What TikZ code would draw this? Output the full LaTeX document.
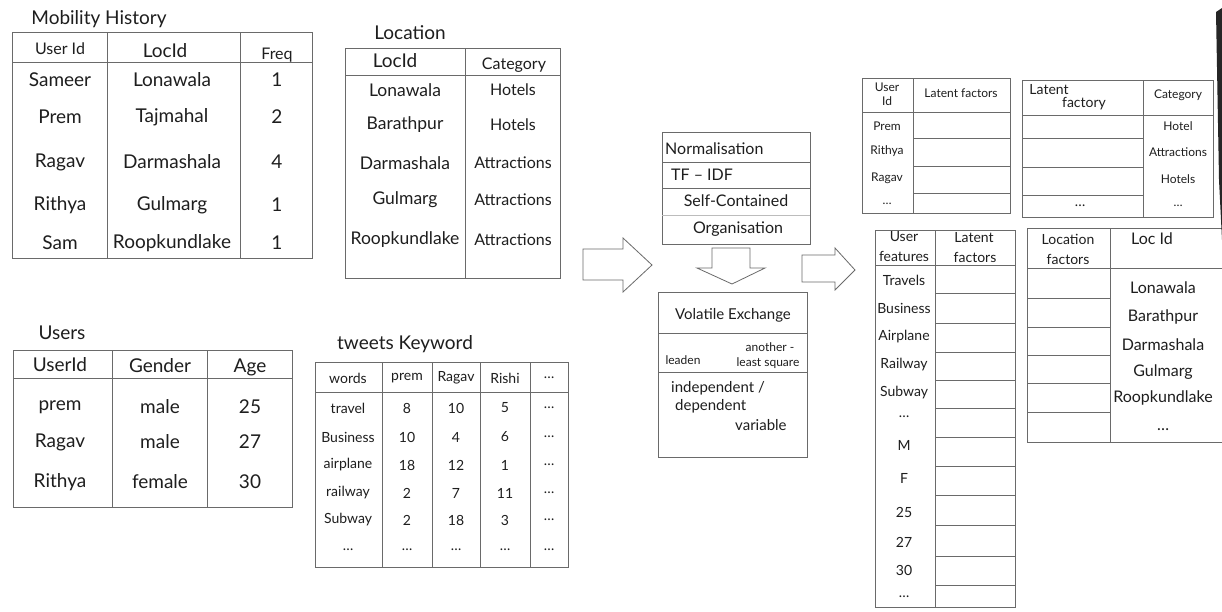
\documentclass[tikz,border=0pt]{standalone}
\usepackage{fontspec}
\setmainfont{Lato}
\definecolor{linec}{HTML}{6A6A6A}
\definecolor{inkc}{HTML}{1E1E1E}
\begin{document}
\begin{tikzpicture}[x=1pt,y=-1pt,
  tl/.style={draw=linec,line width=0.7pt},
  faint/.style={draw=linec!45,line width=0.6pt},
  txt/.style={inner sep=1pt,text=inkc},
  big/.style={txt,font=\fontsize{19}{21}\selectfont},
  lbig/.style={txt,font=\fontsize{17.5}{20}\selectfont},
  mid/.style={txt,font=\fontsize{16}{18}\selectfont},
  vmid/.style={txt,font=\fontsize{15}{17}\selectfont},
  sml/.style={txt,font=\fontsize{14}{16}\selectfont},
  tny/.style={txt,font=\fontsize{12}{14}\selectfont},
  blockarrow/.style={draw=linec,line width=0.8pt,fill=white,line join=miter}]
\fill[white] (0,0) rectangle (1222,611);
\useasboundingbox (0,0) rectangle (1222,611);

% ---------------- Mobility history ----------------
\node[big] (mobT) at (99,19) {Mobility History};
\draw[tl] (12,32) rectangle (312,258);
\draw[tl] (12,62) -- (312,62);
\draw[tl] (107,32) -- (107,258) (240,32) -- (240,258);
\node[mid] (mobH1) at (60,49) {User Id};
\node[big] (mobH2) at (165,51) {LocId};
\node[mid] (mobH3) at (277,55) {Freq};
\foreach \n/\a/\b/\c/\yy in {1/Sameer/Lonawala/1/80,2/Prem/Tajmahal/2/117,3/Ragav/Darmashala/4/162,4/Rithya/Gulmarg/1/205,5/Sam/Roopkundlake/1/243}{
  \node[big] (mobU\n) at (60,\yy) {\a};
  \node[big] (mobL\n) at (172,\yy) {\b};
  \node[big] (mobF\n) at (277,\yy) {\c};
}

% ---------------- Location ----------------
\node[big] (locT) at (410,33) {Location};
\draw[tl] (345,48) rectangle (560,278);
\draw[tl] (345,75) -- (560,75);
\draw[tl] (465,48) -- (465,278);
\node[big] (locH1) at (395,61) {LocId};
\node[mid] (locH2) at (514,65) {Category};
\foreach \n/\a/\b/\yy in {1/Lonawala/Hotels/90,2/Barathpur/Hotels/125,3/Darmashala/Attractions/163,4/Gulmarg/Attractions/200,5/Roopkundlake/Attractions/240}{
  \node[lbig] (locL\n) at (405,\yy) {\a};
  \node[mid] (locC\n) at (513,\yy) {\b};
}

% ---------------- Users ----------------
\node[big] (usrT) at (62,333) {Users};
\draw[tl] (13,350) rectangle (292,507);
\draw[tl] (13,378) -- (292,378);
\draw[tl] (112,350) -- (112,507) (207,350) -- (207,507);
\node[big] (usrH1) at (60,365) {UserId};
\node[big] (usrH2) at (160,366) {Gender};
\node[big] (usrH3) at (250,367) {Age};
\foreach \n/\a/\b/\c/\yy in {1/prem/male/25/407,2/Ragav/male/27/442,3/Rithya/female/30/482}{
  \node[big] (usrU\n) at (60,\yy) {\a};
  \node[big] (usrG\n) at (160,\yy) {\b};
  \node[big] (usrA\n) at (250,\yy) {\c};
}

% ---------------- tweets Keyword ----------------
\node[big] (twT) at (405,344) {tweets Keyword};
\draw[tl] (315,362) rectangle (568,567);
\draw[tl] (315,392) -- (568,392);
\draw[tl] (382,362) -- (382,567) (432,362) -- (432,567) (480,362) -- (480,567) (530,362) -- (530,567);
\node[sml] (twH1) at (348,378) {words};
\node[sml] (twH2) at (407,378) {prem};
\node[sml] (twH3) at (456,378) {Ragav};
\node[sml] (twH4) at (505,378) {Rishi};
\node[sml] (twH5) at (549,378) {\dots};
\foreach \n/\w/\a/\b/\c/\yy in {1/travel/8/10/5/408,2/Business/10/4/6/437,3/airplane/18/12/1/465,4/railway/2/7/11/493,5/Subway/2/18/3/520,6/\dots/\dots/\dots/\dots/550}{
  \node[sml] (twW\n) at (348,\yy) {\w};
  \node[sml] (twP\n) at (407,\yy) {\a};
  \node[sml] (twR\n) at (456,\yy) {\b};
  \node[sml] (twS\n) at (505,\yy) {\c};
  \node[sml] (twD\n) at (549,\yy) {\dots};
}

% ---------------- arrow 1 ----------------
\draw[blockarrow] (583,249) -- (623,249) -- (623,238) -- (652,265) -- (623,292) -- (623,280) -- (583,280) -- cycle;

% ---------------- Normalisation box ----------------
\draw[tl] (662,132) rectangle (810,244);
\draw[tl] (662,162) -- (810,162) (662,188) -- (810,188);
\draw[faint] (662,215) -- (810,215);
\node[mid,anchor=west] (nb1) at (664,149) {Normalisation};
\node[mid] (nb2) at (702,175) {TF -- IDF};
\node[mid] (nb3) at (736,201) {Self-Contained};
\node[mid] (nb4) at (738,229) {Organisation};

% ---------------- down arrow ----------------
\draw[blockarrow] (712,248) -- (750,248) -- (750,268) -- (765,268) -- (732,284) -- (697,268) -- (712,268) -- cycle;

% ---------------- Volatile box ----------------
\draw[tl] (658,292) rectangle (807,457);
\draw[tl] (658,333) -- (807,333) (658,372) -- (807,372);
\node[vmid] (vb1) at (733,315) {Volatile Exchange};
\node[tny] (vb2) at (683,360) {leaden};
\node[tny] (vb3) at (770,347) {another -};
\node[tny] (vb4) at (768,363) {least square};
\node[vmid,anchor=west] (vb5) at (670,388) {independent /};
\node[vmid,anchor=west] (vb6) at (674,406) {dependent};
\node[vmid,anchor=west] (vb7) at (734,425) {variable};

% ---------------- arrow 2 ----------------
\draw[blockarrow] (802,255) -- (835,255) -- (835,248) -- (855,270) -- (835,290) -- (835,282) -- (802,282) -- cycle;

% ---------------- Table A: User Id / Latent factors ----------------
\draw[tl] (862,78) rectangle (1010,213);
\draw[tl] (862,112) -- (1010,112);
\draw[tl] (913,78) -- (913,213);
\draw[tl] (913,138) -- (1010,138) (913,166) -- (1010,166) (913,193) -- (1010,193);
\node[tny] (taH1) at (887,87) {User};
\node[tny] (taH1b) at (887,101) {Id};
\node[tny] (taH2) at (961,93) {Latent factors};
\foreach \n/\a/\yy in {1/Prem/126,2/Rithya/151,3/Ragav/178,4/\dots/204}{
  \node[tny] (taU\n) at (887,\yy) {\a};
}

% ---------------- Table B: Latent factory / Category ----------------
\draw[tl] (1022,80) rectangle (1213,217);
\draw[tl] (1022,115) -- (1213,115);
\draw[tl] (1143,80) -- (1143,217);
\draw[tl] (1022,138) -- (1143,138) (1022,167) -- (1143,167) (1022,195) -- (1143,195);
\node[sml] (tbH1) at (1049,90) {Latent};
\node[sml] (tbH1b) at (1084,104) {factory};
\node[tny] (tbH2) at (1178,95) {Category};
\node[sml] (tbD) at (1080,206) {\dots};
\foreach \n/\a/\yy in {1/Hotel/126,2/Attractions/152,3/Hotels/179,4/\dots/206}{
  \node[tny] (tbC\n) at (1178,\yy) {\a};
}

% ---------------- Table C: User features / Latent factors ----------------
\draw[tl] (875,230) rectangle (1015,607);
\draw[tl] (875,265) -- (1015,265);
\draw[tl] (935,230) -- (935,607);
\foreach \yy in {293,323,352,380,408,437,466,495,525,556,585}{
  \draw[tl] (935,\yy) -- (1015,\yy);
}
\node[sml] (tcH1) at (904,237) {User};
\node[sml] (tcH1b) at (904,256) {features};
\node[sml] (tcH2) at (974,238) {Latent};
\node[sml] (tcH2b) at (975,257) {factors};
\foreach \n/\a/\yy in {1/Travels/280,2/Business/308,3/Airplane/337,4/Railway/365,5/Subway/393,6/\dots/417,7/M/445,8/F/478,9/25/512,10/27/542,11/30/570,12/\dots/597}{
  \node[sml] (tcF\n) at (904,\yy) {\a};
}

% ---------------- Table D: Location factors / Loc Id ----------------
\draw[tl] (1027,228) -- (1222,228);
\draw[tl] (1027,228) -- (1027,442) -- (1222,442);
\draw[tl] (1027,268) -- (1222,268);
\draw[tl] (1110,228) -- (1110,442);
\foreach \yy in {298,327,355,383,412}{
  \draw[tl] (1027,\yy) -- (1110,\yy);
}
\node[sml] (tdH1) at (1068,239) {Location};
\node[sml] (tdH1b) at (1068,259) {factors};
\node[mid] (tdH2) at (1152,239) {Loc Id};
\foreach \n/\a/\yy in {1/Lonawala/288,2/Barathpur/317,3/Darmashala/345,4/Gulmarg/372,5/Roopkundlake/398,6/\dots/430}{
  \node[mid] (tdL\n) at (1163,\yy) {\a};
}

% ---------------- dark paper edge ----------------
\fill[black!85] (1216,12) -- (1222,8) -- (1222,240) -- (1219,180) -- cycle;
\end{tikzpicture}
\end{document}
